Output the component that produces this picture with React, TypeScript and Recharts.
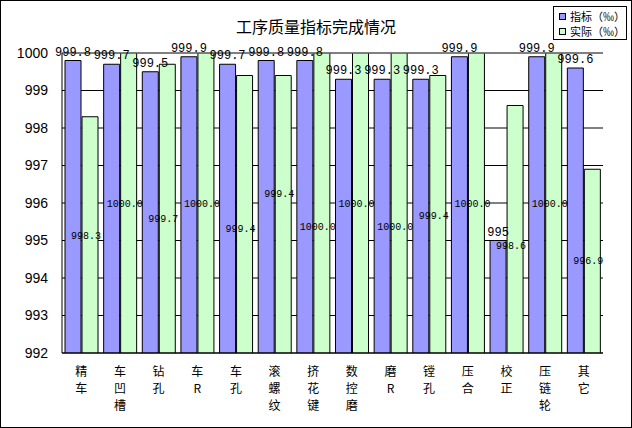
import React from 'react';
import { BarChart, Bar, XAxis, YAxis, CartesianGrid, ReferenceLine, LabelList } from 'recharts';

const categories = ['精车', '车凹槽', '钻孔', '车R', '车孔', '滚螺纹', '挤花键', '数控磨', '磨R', '镗孔', '压合', '校正', '压链轮', '其它'];
const targetValues = [999.8, 999.7, 999.5, 999.9, 999.7, 999.8, 999.8, 999.3, 999.3, 999.3, 999.9, 995, 999.9, 999.6];
const actualValues = [998.3, 1000.0, 999.7, 1000.0, 999.4, 999.4, 1000.0, 1000.0, 1000.0, 999.4, 1000.0, 998.6, 1000.0, 996.9];
// where the 实际 labels sit, in axis units
const actualLabelAnchor = [995.12, 995.95, 995.55, 995.95, 995.29, 996.24, 995.36, 995.97, 995.36, 995.65, 995.97, 994.85, 995.97, 994.43];
const yTicks = [992, 993, 994, 995, 996, 997, 998, 999, 1000];

const Y_MIN = 992;
const Y_MAX = 1000;
const BAR_GAP = 1;
const BLUE = '#9999FF';
const GREEN = '#CCFFCC';
const MONO = '"Liberation Mono", "DejaVu Sans Mono", monospace';
const CJK = '"Noto Sans CJK SC", sans-serif';

const data = categories.map((c, i) => ({ name: c, target: targetValues[i], actual: actualValues[i] }));

const CategoryTick = (props: any) => {
    const { x, y, payload } = props;
    const chars = Array.from(String(payload.value));
    return (
        <g>
            {chars.map((ch, i) => (
                <text key={i} x={x} y={y + 21 + i * 17} textAnchor="middle" fontSize={12} fontFamily={CJK} fill="#000">
                    {ch}
                </text>
            ))}
        </g>
    );
};

// drawn with the green series so both label sets sit above every bar
const PairLabels = (props: any) => {
    const { x, y, width, height, index, value } = props;
    const bottom = y + height;
    const toY = (v: number) => bottom - ((v - Y_MIN) / (value - Y_MIN)) * height;
    const target = targetValues[index];
    const anchor = actualLabelAnchor[index];
    return (
        <g>
            <text x={x - BAR_GAP - width / 2} y={toY(target) - 5} textAnchor="middle" fontSize={12} fontFamily={MONO} fill="#000">
                {String(target)}
            </text>
            <text x={x + 4} y={toY(anchor)} textAnchor="middle" dominantBaseline="central" fontSize={10} fontFamily={MONO} fill="#000">
                {Number(value).toFixed(1)}
            </text>
        </g>
    );
};

export default function App() {
    return (
        <div style={{ position: 'absolute', left: 0, top: 0, width: 632, height: 428, border: '1px solid #000', boxSizing: 'border-box', background: '#fff' }}>
            <div style={{ position: 'absolute', left: 0, width: 630, top: 14, height: 22, lineHeight: '22px', textAlign: 'center', fontFamily: CJK, fontSize: 16, color: '#000' }}>
                工序质量指标完成情况
            </div>
            {/* legend */}
            <div style={{ position: 'absolute', left: 552, top: 5, width: 72, height: 32, border: '1px solid #000', fontFamily: CJK, fontSize: 11, color: '#000' }}>
                {[['指标（‰）', BLUE], ['实际（‰）', GREEN]].map(([label, color], i) => (
                    <div key={i} style={{ position: 'absolute', left: 5, top: 2 + i * 15, height: 14, lineHeight: '14px', whiteSpace: 'nowrap', display: 'flex', alignItems: 'center' }}>
                        <span style={{ display: 'inline-block', width: 5, height: 5, background: color, border: '1px solid #000', marginRight: 4 }} />
                        {label}
                    </div>
                ))}
            </div>
            <div style={{ position: 'absolute', left: -1, top: -1 }}>
                <BarChart width={632} height={428} data={data} margin={{ top: 53, right: 29, left: 0, bottom: 0 }} barGap={BAR_GAP} barCategoryGap={3}>
                    <CartesianGrid vertical={false} stroke="#000" strokeOpacity={1} />
                    <XAxis
                        dataKey="name"
                        height={75}
                        interval={0}
                        axisLine={{ stroke: '#000' }}
                        tickLine={false}
                        tickSize={0}
                        tick={<CategoryTick />}
                    />
                    <YAxis
                        domain={[Y_MIN, Y_MAX]}
                        ticks={yTicks}
                        width={62}
                        allowDataOverflow
                        axisLine={{ stroke: '#000' }}
                        tickLine={false}
                        tickSize={6}
                        tickMargin={8}
                        tick={{ fontSize: 14, fill: '#000', fontFamily: '"Liberation Sans", Arial, sans-serif' }}
                    />
                    <YAxis
                        yAxisId="frame"
                        orientation="right"
                        domain={[Y_MIN, Y_MAX]}
                        width={0}
                        tick={false}
                        tickLine={false}
                        axisLine={{ stroke: '#808080' }}
                    />
                    <ReferenceLine y={Y_MAX} stroke="#808080" />
                    <Bar dataKey="target" name="指标（‰）" fill={BLUE} stroke="#000" strokeWidth={1} isAnimationActive={false} />
                    <Bar dataKey="actual" name="实际（‰）" fill={GREEN} stroke="#000" strokeWidth={1} isAnimationActive={false}>
                        <LabelList dataKey="actual" content={<PairLabels />} />
                    </Bar>
                </BarChart>
            </div>
        </div>
    );
}
